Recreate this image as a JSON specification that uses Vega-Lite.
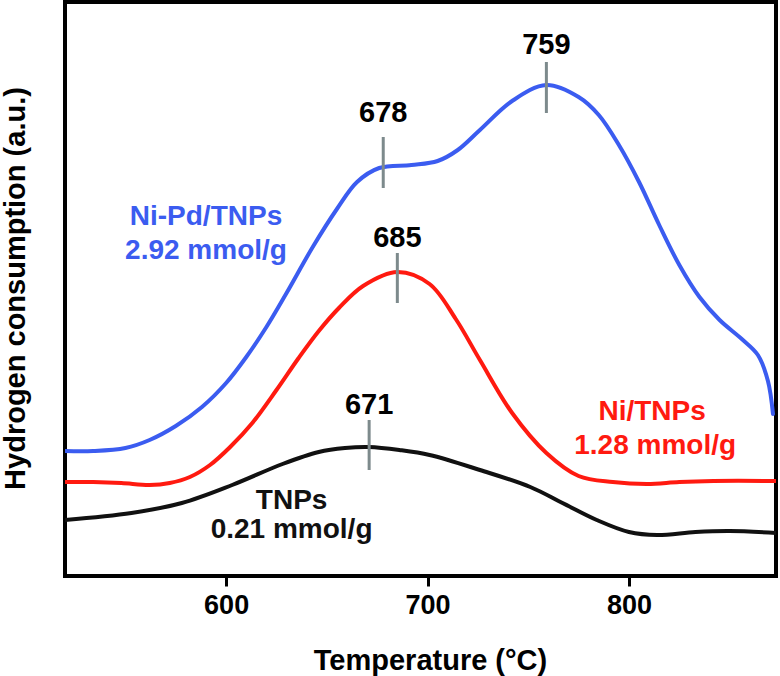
{
  "$schema": "https://vega.github.io/schema/vega-lite/v6.json",
  "autosize": {"type": "none"},
  "width": 711,
  "height": 574,
  "padding": {"left": 65, "top": 2, "right": 4, "bottom": 100},
  "background": "white",
  "config": {
    "view": {"stroke": "black", "strokeWidth": 4},
    "font": "Liberation Sans"
  },
  "datasets": {
    "curves": [
      {"series": "Ni-Pd/TNPs", "T": 520, "v": 126},
      {"series": "Ni-Pd/TNPs", "T": 534, "v": 126},
      {"series": "Ni-Pd/TNPs", "T": 550, "v": 129},
      {"series": "Ni-Pd/TNPs", "T": 562, "v": 137},
      {"series": "Ni-Pd/TNPs", "T": 575, "v": 151},
      {"series": "Ni-Pd/TNPs", "T": 588, "v": 170},
      {"series": "Ni-Pd/TNPs", "T": 600, "v": 194},
      {"series": "Ni-Pd/TNPs", "T": 610, "v": 220},
      {"series": "Ni-Pd/TNPs", "T": 620, "v": 250},
      {"series": "Ni-Pd/TNPs", "T": 630, "v": 284},
      {"series": "Ni-Pd/TNPs", "T": 643, "v": 330},
      {"series": "Ni-Pd/TNPs", "T": 655, "v": 368},
      {"series": "Ni-Pd/TNPs", "T": 665, "v": 395},
      {"series": "Ni-Pd/TNPs", "T": 676, "v": 409},
      {"series": "Ni-Pd/TNPs", "T": 692, "v": 412},
      {"series": "Ni-Pd/TNPs", "T": 705, "v": 416},
      {"series": "Ni-Pd/TNPs", "T": 715, "v": 427},
      {"series": "Ni-Pd/TNPs", "T": 726, "v": 447},
      {"series": "Ni-Pd/TNPs", "T": 742, "v": 476},
      {"series": "Ni-Pd/TNPs", "T": 759, "v": 492},
      {"series": "Ni-Pd/TNPs", "T": 775, "v": 480},
      {"series": "Ni-Pd/TNPs", "T": 785, "v": 462},
      {"series": "Ni-Pd/TNPs", "T": 795, "v": 432},
      {"series": "Ni-Pd/TNPs", "T": 805, "v": 395},
      {"series": "Ni-Pd/TNPs", "T": 815, "v": 352},
      {"series": "Ni-Pd/TNPs", "T": 825, "v": 312},
      {"series": "Ni-Pd/TNPs", "T": 835, "v": 280},
      {"series": "Ni-Pd/TNPs", "T": 845, "v": 257},
      {"series": "Ni-Pd/TNPs", "T": 856, "v": 238},
      {"series": "Ni-Pd/TNPs", "T": 864, "v": 222},
      {"series": "Ni-Pd/TNPs", "T": 869, "v": 196},
      {"series": "Ni-Pd/TNPs", "T": 871.5, "v": 163},
      {"series": "Ni/TNPs", "T": 520, "v": 95},
      {"series": "Ni/TNPs", "T": 534, "v": 95},
      {"series": "Ni/TNPs", "T": 548, "v": 94},
      {"series": "Ni/TNPs", "T": 562, "v": 92},
      {"series": "Ni/TNPs", "T": 572, "v": 94},
      {"series": "Ni/TNPs", "T": 582, "v": 100},
      {"series": "Ni/TNPs", "T": 592, "v": 112},
      {"series": "Ni/TNPs", "T": 602, "v": 130},
      {"series": "Ni/TNPs", "T": 613, "v": 154},
      {"series": "Ni/TNPs", "T": 625, "v": 187},
      {"series": "Ni/TNPs", "T": 636, "v": 219},
      {"series": "Ni/TNPs", "T": 646, "v": 246},
      {"series": "Ni/TNPs", "T": 656, "v": 269},
      {"series": "Ni/TNPs", "T": 668, "v": 291},
      {"series": "Ni/TNPs", "T": 685, "v": 305},
      {"series": "Ni/TNPs", "T": 701, "v": 293},
      {"series": "Ni/TNPs", "T": 714, "v": 258},
      {"series": "Ni/TNPs", "T": 726, "v": 217},
      {"series": "Ni/TNPs", "T": 742, "v": 164},
      {"series": "Ni/TNPs", "T": 759, "v": 124},
      {"series": "Ni/TNPs", "T": 775, "v": 101},
      {"series": "Ni/TNPs", "T": 792, "v": 95},
      {"series": "Ni/TNPs", "T": 809, "v": 93},
      {"series": "Ni/TNPs", "T": 825, "v": 95},
      {"series": "Ni/TNPs", "T": 842, "v": 96},
      {"series": "Ni/TNPs", "T": 873, "v": 96},
      {"series": "TNPs", "T": 520, "v": 57},
      {"series": "TNPs", "T": 553, "v": 64},
      {"series": "TNPs", "T": 578, "v": 74},
      {"series": "TNPs", "T": 603, "v": 92},
      {"series": "TNPs", "T": 628, "v": 113},
      {"series": "TNPs", "T": 646, "v": 125},
      {"series": "TNPs", "T": 659, "v": 129},
      {"series": "TNPs", "T": 671, "v": 130},
      {"series": "TNPs", "T": 686, "v": 127},
      {"series": "TNPs", "T": 701, "v": 122},
      {"series": "TNPs", "T": 726, "v": 107},
      {"series": "TNPs", "T": 751, "v": 90},
      {"series": "TNPs", "T": 767, "v": 74},
      {"series": "TNPs", "T": 784, "v": 57},
      {"series": "TNPs", "T": 800, "v": 45},
      {"series": "TNPs", "T": 814, "v": 42},
      {"series": "TNPs", "T": 833, "v": 45},
      {"series": "TNPs", "T": 850, "v": 46},
      {"series": "TNPs", "T": 873, "v": 44}
    ],
    "peaks": [
      {"label": "678", "T": 678, "lo": 389, "hi": 440, "tv": 464},
      {"label": "759", "T": 759, "lo": 464, "hi": 515, "tv": 532},
      {"label": "685", "T": 685, "lo": 274, "hi": 324, "tv": 339},
      {"label": "671", "T": 671, "lo": 107, "hi": 157, "tv": 172}
    ],
    "names": [
      {"series": "Ni-Pd/TNPs", "text": "Ni-Pd/TNPs", "T": 590, "v": 360},
      {"series": "Ni-Pd/TNPs", "text": "2.92 mmol/g", "T": 590, "v": 326},
      {"series": "Ni/TNPs", "text": "Ni/TNPs", "T": 811.5, "v": 165},
      {"series": "Ni/TNPs", "text": "1.28 mmol/g", "T": 813, "v": 131},
      {"series": "TNPs", "text": "TNPs", "T": 632.5, "v": 76},
      {"series": "TNPs", "text": "0.21 mmol/g", "T": 632.5, "v": 47}
    ]
  },
  "layer": [
    {
      "data": {"name": "curves"},
      "mark": {"type": "line", "interpolate": "catmull-rom", "strokeWidth": 4, "strokeCap": "round", "clip": true},
      "encoding": {
        "x": {
          "field": "T", "type": "quantitative",
          "scale": {"domain": [520, 873], "nice": false, "zero": false},
          "axis": {
            "title": "Temperature (°C)",
            "values": [600, 700, 800],
            "domain": false,
            "grid": false,
            "tickColor": "black",
            "tickWidth": 3,
            "tickSize": 10,
            "labelFont": "Liberation Sans",
            "labelFontSize": 27,
            "labelFontWeight": "bold",
            "labelColor": "black",
            "labelPadding": 6,
            "titleFont": "Liberation Sans",
            "titleFontSize": 29,
            "titleFontWeight": "bold",
            "titleColor": "black",
            "titleX": 365,
            "titleY": 84,
            "titleBaseline": "middle",
            "titleAlign": "center"
          }
        },
        "y": {
          "field": "v", "type": "quantitative",
          "scale": {"domain": [1, 575], "nice": false, "zero": false},
          "axis": {
            "title": "Hydrogen consumption (a.u.)",
            "labels": false,
            "ticks": false,
            "domain": false,
            "grid": false,
            "titleFont": "Liberation Sans",
            "titleFontSize": 29,
            "titleFontWeight": "bold",
            "titleColor": "black",
            "titleAngle": -90,
            "titleX": -50,
            "titleY": 286,
            "titleBaseline": "middle",
            "titleAlign": "center"
          }
        },
        "color": {
          "field": "series", "type": "nominal",
          "scale": {"domain": ["Ni-Pd/TNPs", "Ni/TNPs", "TNPs"], "range": ["#3b5cf0", "#ff1a10", "#111111"]},
          "legend": null
        },
        "detail": {"field": "series"}
      }
    },
    {
      "data": {"name": "peaks"},
      "mark": {"type": "rule", "color": "#7d8a8c", "strokeWidth": 3},
      "encoding": {
        "x": {"field": "T", "type": "quantitative"},
        "y": {"field": "lo", "type": "quantitative"},
        "y2": {"field": "hi"}
      }
    },
    {
      "data": {"name": "peaks"},
      "mark": {"type": "text", "font": "Liberation Sans", "fontSize": 29, "fontWeight": "bold", "color": "black", "baseline": "middle", "align": "center"},
      "encoding": {
        "x": {"field": "T", "type": "quantitative"},
        "y": {"field": "tv", "type": "quantitative"},
        "text": {"field": "label"}
      }
    },
    {
      "data": {"name": "names"},
      "mark": {"type": "text", "font": "Liberation Sans", "fontSize": 28, "fontWeight": "bold", "baseline": "middle", "align": "center"},
      "encoding": {
        "x": {"field": "T", "type": "quantitative"},
        "y": {"field": "v", "type": "quantitative"},
        "text": {"field": "text"},
        "color": {"field": "series", "type": "nominal", "legend": null}
      }
    }
  ]
}
